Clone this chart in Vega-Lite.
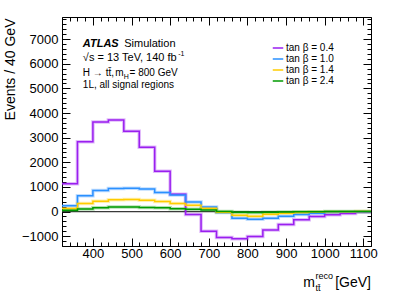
{
  "$schema": "https://vega.github.io/schema/vega-lite/v6.json",
  "width": 309,
  "height": 229,
  "autosize": "none",
  "padding": {"left": 62, "top": 17, "right": 44, "bottom": 52},
  "config": {
    "view": {"stroke": null},
    "font": "Liberation Sans",
    "axis": {"grid": false, "domainColor": "black", "tickColor": "black", "labelColor": "black", "labelFont": "Liberation Sans", "titleFont": "Liberation Sans", "labelFontSize": 13, "titleFontSize": 14, "titleFontWeight": "normal", "titleColor": "black", "labelOverlap": false, "labelFlush": false, "tickWidth": 1, "domainWidth": 1},
    "legend": {"orient": "none", "legendX": 210, "legendY": 25, "title": null, "symbolType": "stroke", "symbolSize": 110, "symbolStrokeWidth": 1.5, "symbolOpacity": 1, "labelFontSize": 10, "labelFont": "Liberation Sans", "labelColor": "black", "rowPadding": 0, "labelOffset": 2, "padding": 0, "offset": 0}
  },
  "datasets": {
    "hist": [
      {"series": "tan β = 0.4", "m": 320, "events": 1130},
      {"series": "tan β = 0.4", "m": 360, "events": 2830},
      {"series": "tan β = 0.4", "m": 400, "events": 3640},
      {"series": "tan β = 0.4", "m": 440, "events": 3720},
      {"series": "tan β = 0.4", "m": 480, "events": 3260},
      {"series": "tan β = 0.4", "m": 520, "events": 2610},
      {"series": "tan β = 0.4", "m": 560, "events": 1640},
      {"series": "tan β = 0.4", "m": 600, "events": 700},
      {"series": "tan β = 0.4", "m": 640, "events": -120},
      {"series": "tan β = 0.4", "m": 680, "events": -800},
      {"series": "tan β = 0.4", "m": 720, "events": -1050},
      {"series": "tan β = 0.4", "m": 760, "events": -1110},
      {"series": "tan β = 0.4", "m": 800, "events": -1015},
      {"series": "tan β = 0.4", "m": 840, "events": -755},
      {"series": "tan β = 0.4", "m": 880, "events": -528},
      {"series": "tan β = 0.4", "m": 920, "events": -337},
      {"series": "tan β = 0.4", "m": 960, "events": -203},
      {"series": "tan β = 0.4", "m": 1000, "events": -134},
      {"series": "tan β = 0.4", "m": 1040, "events": -80},
      {"series": "tan β = 0.4", "m": 1080, "events": -20},
      {"series": "tan β = 0.4", "m": 1120, "events": -20},
      {"series": "tan β = 1.0", "m": 320, "events": 230},
      {"series": "tan β = 1.0", "m": 360, "events": 640},
      {"series": "tan β = 1.0", "m": 400, "events": 853},
      {"series": "tan β = 1.0", "m": 440, "events": 934},
      {"series": "tan β = 1.0", "m": 480, "events": 950},
      {"series": "tan β = 1.0", "m": 520, "events": 910},
      {"series": "tan β = 1.0", "m": 560, "events": 770},
      {"series": "tan β = 1.0", "m": 600, "events": 670},
      {"series": "tan β = 1.0", "m": 640, "events": 390},
      {"series": "tan β = 1.0", "m": 680, "events": 180},
      {"series": "tan β = 1.0", "m": 720, "events": -40},
      {"series": "tan β = 1.0", "m": 760, "events": -268},
      {"series": "tan β = 1.0", "m": 800, "events": -309},
      {"series": "tan β = 1.0", "m": 840, "events": -268},
      {"series": "tan β = 1.0", "m": 880, "events": -187},
      {"series": "tan β = 1.0", "m": 920, "events": -122},
      {"series": "tan β = 1.0", "m": 960, "events": -65},
      {"series": "tan β = 1.0", "m": 1000, "events": -30},
      {"series": "tan β = 1.0", "m": 1040, "events": -15},
      {"series": "tan β = 1.0", "m": 1080, "events": -5},
      {"series": "tan β = 1.0", "m": 1120, "events": -5},
      {"series": "tan β = 1.4", "m": 320, "events": 120},
      {"series": "tan β = 1.4", "m": 360, "events": 325},
      {"series": "tan β = 1.4", "m": 400, "events": 422},
      {"series": "tan β = 1.4", "m": 440, "events": 475},
      {"series": "tan β = 1.4", "m": 480, "events": 487},
      {"series": "tan β = 1.4", "m": 520, "events": 463},
      {"series": "tan β = 1.4", "m": 560, "events": 406},
      {"series": "tan β = 1.4", "m": 600, "events": 325},
      {"series": "tan β = 1.4", "m": 640, "events": 260},
      {"series": "tan β = 1.4", "m": 680, "events": 138},
      {"series": "tan β = 1.4", "m": 720, "events": -30},
      {"series": "tan β = 1.4", "m": 760, "events": -150},
      {"series": "tan β = 1.4", "m": 800, "events": -187},
      {"series": "tan β = 1.4", "m": 840, "events": -106},
      {"series": "tan β = 1.4", "m": 880, "events": -65},
      {"series": "tan β = 1.4", "m": 920, "events": -40},
      {"series": "tan β = 1.4", "m": 960, "events": -20},
      {"series": "tan β = 1.4", "m": 1000, "events": -10},
      {"series": "tan β = 1.4", "m": 1040, "events": -5},
      {"series": "tan β = 1.4", "m": 1080, "events": 0},
      {"series": "tan β = 1.4", "m": 1120, "events": 0},
      {"series": "tan β = 2.4", "m": 320, "events": 50},
      {"series": "tan β = 2.4", "m": 360, "events": 100},
      {"series": "tan β = 2.4", "m": 400, "events": 150},
      {"series": "tan β = 2.4", "m": 440, "events": 179},
      {"series": "tan β = 2.4", "m": 480, "events": 179},
      {"series": "tan β = 2.4", "m": 520, "events": 162},
      {"series": "tan β = 2.4", "m": 560, "events": 150},
      {"series": "tan β = 2.4", "m": 600, "events": 110},
      {"series": "tan β = 2.4", "m": 640, "events": 97},
      {"series": "tan β = 2.4", "m": 680, "events": 57},
      {"series": "tan β = 2.4", "m": 720, "events": 0},
      {"series": "tan β = 2.4", "m": 760, "events": -30},
      {"series": "tan β = 2.4", "m": 800, "events": -40},
      {"series": "tan β = 2.4", "m": 840, "events": -30},
      {"series": "tan β = 2.4", "m": 880, "events": -20},
      {"series": "tan β = 2.4", "m": 920, "events": -10},
      {"series": "tan β = 2.4", "m": 960, "events": -5},
      {"series": "tan β = 2.4", "m": 1000, "events": 0},
      {"series": "tan β = 2.4", "m": 1040, "events": 0},
      {"series": "tan β = 2.4", "m": 1080, "events": 0},
      {"series": "tan β = 2.4", "m": 1120, "events": 0}
    ],
    "zero": [{"m": 320, "events": 0}, {"m": 1120, "events": 0}],
    "one": [{}]
  },
  "layer": [
    {
      "data": {"name": "zero"},
      "mark": {"type": "line", "color": "#3a3a3a", "strokeWidth": 1.2},
      "encoding": {
        "x": {"field": "m", "type": "quantitative", "scale": {"domain": [320, 1120], "nice": false, "zero": false},
          "axis": {"orient": "top", "labels": false, "title": null, "values": [320,340,360,380,400,420,440,460,480,500,520,540,560,580,600,620,640,660,680,700,720,740,760,780,800,820,840,860,880,900,920,940,960,980,1000,1020,1040,1060,1080,1100,1120],
            "tickSize": {"condition": {"test": "datum.value % 100 === 0", "value": -8}, "value": -4}}},
        "y": {"field": "events", "type": "quantitative", "scale": {"domain": [-1400, 7900], "nice": false, "zero": false},
          "axis": {"orient": "right", "labels": false, "title": null, "values": [-1400,-1200,-1000,-800,-600,-400,-200,0,200,400,600,800,1000,1200,1400,1600,1800,2000,2200,2400,2600,2800,3000,3200,3400,3600,3800,4000,4200,4400,4600,4800,5000,5200,5400,5600,5800,6000,6200,6400,6600,6800,7000,7200,7400,7600,7800],
            "tickSize": {"condition": {"test": "datum.value % 1000 === 0", "value": -8}, "value": -4}}}
      }
    },
    {
      "data": {"name": "hist"},
      "mark": {"type": "line", "interpolate": "step-after", "strokeWidth": 3.5, "opacity": 0.3},
      "encoding": {
        "x": {"field": "m", "type": "quantitative", "scale": {"domain": [320, 1120], "nice": false, "zero": false}, "axis": null},
        "y": {"field": "events", "type": "quantitative", "scale": {"domain": [-1400, 7900], "nice": false, "zero": false}, "axis": null},
        "color": {"field": "series", "type": "nominal",
          "scale": {"domain": ["tan β = 0.4", "tan β = 1.0", "tan β = 1.4", "tan β = 2.4"], "range": ["#9a1ff0", "#2a90ff", "#ffcc00", "#009a00"]}}
      }
    },
    {
      "data": {"name": "hist"},
      "mark": {"type": "line", "interpolate": "step-after", "strokeWidth": 1.5},
      "encoding": {
        "x": {"field": "m", "type": "quantitative", "scale": {"domain": [320, 1120], "nice": false, "zero": false},
          "axis": {"orient": "bottom", "title": null, "format": "d", "values": [320,340,360,380,400,420,440,460,480,500,520,540,560,580,600,620,640,660,680,700,720,740,760,780,800,820,840,860,880,900,920,940,960,980,1000,1020,1040,1060,1080,1100,1120],
            "labelExpr": "datum.value % 100 === 0 ? datum.label : ''",
            "tickSize": {"condition": {"test": "datum.value % 100 === 0", "value": -8}, "value": -4}, "labelPadding": 9}},
        "y": {"field": "events", "type": "quantitative", "scale": {"domain": [-1400, 7900], "nice": false, "zero": false},
          "axis": {"orient": "left", "title": "Events / 40 GeV", "values": [-1400,-1200,-1000,-800,-600,-400,-200,0,200,400,600,800,1000,1200,1400,1600,1800,2000,2200,2400,2600,2800,3000,3200,3400,3600,3800,4000,4200,4400,4600,4800,5000,5200,5400,5600,5800,6000,6200,6400,6600,6800,7000,7200,7400,7600,7800],
            "labelExpr": "datum.value % 1000 === 0 ? datum.label : ''",
            "format": "d",
            "tickSize": {"condition": {"test": "datum.value % 1000 === 0", "value": -8}, "value": -4}, "labelPadding": 12,
            "titleX": -48, "titleY": 1, "titleAngle": -90, "titleAlign": "right", "titleBaseline": "alphabetic"}},
        "color": {"field": "series", "type": "nominal",
          "scale": {"domain": ["tan β = 0.4", "tan β = 1.0", "tan β = 1.4", "tan β = 2.4"], "range": ["#9a1ff0", "#2a90ff", "#ffcc00", "#009a00"]}}
      }
    },
    {
      "data": {"name": "one"},
      "mark": {"type": "text", "font": "Liberation Sans", "fontSize": 11, "fontWeight": "bold", "fontStyle": "italic", "align": "left", "baseline": "middle", "color": "black"},
      "encoding": {"x": {"datum": 374, "type": "quantitative", "axis": null}, "y": {"datum": 6800, "type": "quantitative", "axis": null}, "text": {"value": "ATLAS"}}
    },
    {
      "data": {"name": "one"},
      "mark": {"type": "text", "font": "Liberation Sans", "fontSize": 11, "align": "left", "baseline": "middle", "color": "black"},
      "encoding": {"x": {"datum": 481, "type": "quantitative", "axis": null}, "y": {"datum": 6800, "type": "quantitative", "axis": null}, "text": {"value": "Simulation"}}
    },
    {
      "data": {"name": "one"},
      "mark": {"type": "text", "font": "Liberation Sans", "fontSize": 11, "align": "left", "baseline": "middle", "color": "black"},
      "encoding": {"x": {"datum": 374, "type": "quantitative", "axis": null}, "y": {"datum": 6230, "type": "quantitative", "axis": null}, "text": {"value": "√s = 13 TeV, 140 fb"}}
    },
    {
      "data": {"name": "one"},
      "mark": {"type": "text", "font": "Liberation Sans", "fontSize": 7, "align": "left", "baseline": "middle", "color": "black"},
      "encoding": {"x": {"datum": 621, "type": "quantitative", "axis": null}, "y": {"datum": 6400, "type": "quantitative", "axis": null}, "text": {"value": "-1"}}
    },
    {
      "data": {"name": "one"},
      "mark": {"type": "text", "font": "Liberation Sans", "fontSize": 10, "align": "left", "baseline": "middle", "color": "black"},
      "encoding": {"x": {"datum": 374, "type": "quantitative", "axis": null}, "y": {"datum": 5630, "type": "quantitative", "axis": null}, "text": {"value": "H → tt̄,"}}
    },
    {
      "data": {"name": "one"},
      "mark": {"type": "text", "font": "Liberation Sans", "fontSize": 10, "align": "left", "baseline": "middle", "color": "black"},
      "encoding": {"x": {"datum": 458, "type": "quantitative", "axis": null}, "y": {"datum": 5630, "type": "quantitative", "axis": null}, "text": {"value": "m"}}
    },
    {
      "data": {"name": "one"},
      "mark": {"type": "text", "font": "Liberation Sans", "fontSize": 7, "align": "left", "baseline": "middle", "color": "black"},
      "encoding": {"x": {"datum": 480, "type": "quantitative", "axis": null}, "y": {"datum": 5460, "type": "quantitative", "axis": null}, "text": {"value": "H"}}
    },
    {
      "data": {"name": "one"},
      "mark": {"type": "text", "font": "Liberation Sans", "fontSize": 10, "align": "left", "baseline": "middle", "color": "black"},
      "encoding": {"x": {"datum": 495, "type": "quantitative", "axis": null}, "y": {"datum": 5630, "type": "quantitative", "axis": null}, "text": {"value": "= 800 GeV"}}
    },
    {
      "data": {"name": "one"},
      "mark": {"type": "text", "font": "Liberation Sans", "fontSize": 10, "align": "left", "baseline": "middle", "color": "black"},
      "encoding": {"x": {"datum": 374, "type": "quantitative", "axis": null}, "y": {"datum": 5140, "type": "quantitative", "axis": null}, "text": {"value": "1L, all signal regions"}}
    },
    {
      "data": {"name": "one"},
      "mark": {"type": "text", "font": "Liberation Sans", "fontSize": 14, "align": "right", "baseline": "alphabetic", "color": "black"},
      "encoding": {"x": {"datum": 975, "type": "quantitative", "axis": null}, "y": {"datum": -3065, "type": "quantitative", "axis": null}, "text": {"value": "m"}}
    },
    {
      "data": {"name": "one"},
      "mark": {"type": "text", "font": "Liberation Sans", "fontSize": 9, "align": "left", "baseline": "alphabetic", "color": "black"},
      "encoding": {"x": {"datum": 976, "type": "quantitative", "axis": null}, "y": {"datum": -2752, "type": "quantitative", "axis": null}, "text": {"value": "reco"}}
    },
    {
      "data": {"name": "one"},
      "mark": {"type": "text", "font": "Liberation Sans", "fontSize": 9, "align": "left", "baseline": "alphabetic", "color": "black"},
      "encoding": {"x": {"datum": 976, "type": "quantitative", "axis": null}, "y": {"datum": -3227, "type": "quantitative", "axis": null}, "text": {"value": "tt̄"}}
    },
    {
      "data": {"name": "one"},
      "mark": {"type": "text", "font": "Liberation Sans", "fontSize": 14, "align": "right", "baseline": "alphabetic", "color": "black"},
      "encoding": {"x": {"datum": 1120, "type": "quantitative", "axis": null}, "y": {"datum": -3065, "type": "quantitative", "axis": null}, "text": {"value": "[GeV]"}}
    }
  ]
}
